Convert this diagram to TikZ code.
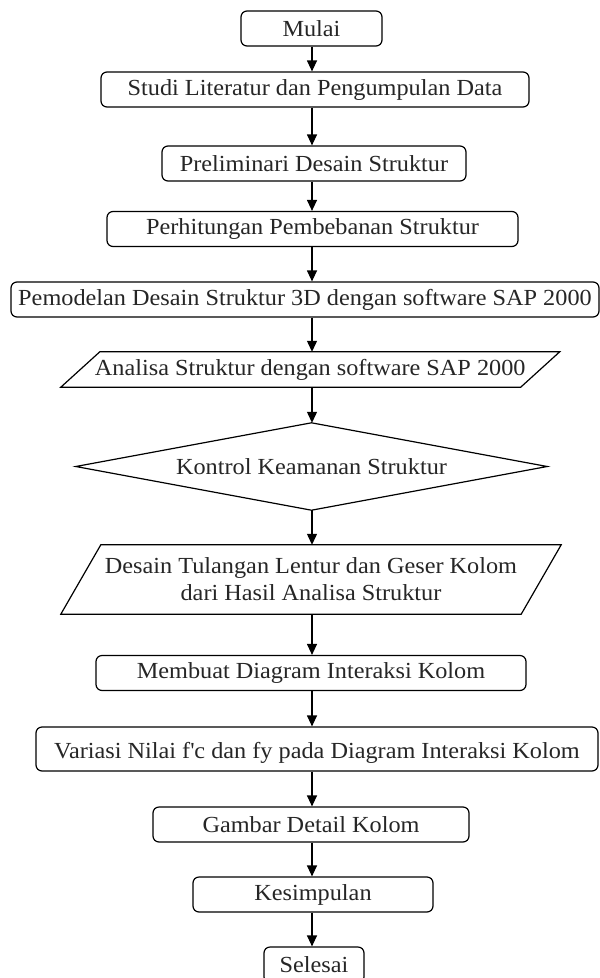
\documentclass[tikz,border=0pt]{standalone}
\usepackage{fontspec}
\setmainfont{Liberation Serif}[FakeStretch=1.055]
\usetikzlibrary{arrows.meta}
\begin{document}
\begin{tikzpicture}[x=1pt,y=-1pt,
  every node/.style={font=\fontsize{23}{27}\selectfont, text=black!85, inner sep=0pt},
  proc/.style={draw, line width=1.2pt, rounded corners=6pt, minimum height=35pt},
  outline/.style={line width=1.2pt, line join=miter},
  flow/.style={line width=1.2pt, -{Triangle[width=10pt,length=11pt]}}
]
\useasboundingbox (0,0) rectangle (600,978);
\clip (0,0) rectangle (600,978);
\fill[white] (0,0) rectangle (600,978);

\coordinate (axis) at (312,0);

% process boxes
\node[proc, minimum width=141pt] (mulai) at (311.5,28.5) {Mulai};
\node[proc, minimum width=428pt] (studi) at (315,89.5) {Studi Literatur dan Pengumpulan Data};
\node[proc, minimum width=304pt] (prelim) at (314,163.5) {Preliminari Desain Struktur};
\node[proc, minimum width=411pt] (hitung) at (312.5,229) {Perhitungan Pembebanan Struktur};
\node[proc, minimum width=588pt] (model) at (305,299.5) {Pemodelan Desain Struktur 3D dengan software SAP 2000};

% input/output: analysis
\node[minimum width=459.5pt, minimum height=35pt] (analisa) at (310.25,369.5) {Analisa Struktur dengan software SAP 2000};
\draw[outline] ([xshift=19.5pt]analisa.north west) -- ([xshift=19.5pt]analisa.north east)
  -- ([xshift=-19.5pt]analisa.south east) -- ([xshift=-19.5pt]analisa.south west) -- cycle;

% decision
\node[minimum width=471pt, minimum height=87pt] (kontrol) at (311.5,466.5) {Kontrol Keamanan Struktur};
\draw[outline] (kontrol.north) -- (kontrol.east) -- (kontrol.south) -- (kontrol.west) -- cycle;

% input/output: reinforcement design
\node[minimum width=460pt, minimum height=69pt, align=center] (desain) at (311,579.5)
  {Desain Tulangan Lentur dan Geser Kolom\\dari Hasil Analisa Struktur};
\draw[outline] ([xshift=20pt]desain.north west) -- ([xshift=20pt]desain.north east)
  -- ([xshift=-20pt]desain.south east) -- ([xshift=-20pt]desain.south west) -- cycle;

\node[proc, minimum width=430pt] (membuat) at (311,673) {Membuat Diagram Interaksi Kolom};
\node[proc, minimum width=562pt, minimum height=44pt] (variasi) at (317,749) {};
\node at ([yshift=-4pt]variasi.center) {Variasi Nilai f\textquotesingle c dan fy pada Diagram Interaksi Kolom};
\node[proc, minimum width=316pt] (gambar) at (311,824.5) {Gambar Detail Kolom};
\node[proc, minimum width=240pt] (simpul) at (313,894.5) {Kesimpulan};
\node[proc, minimum width=100pt, minimum height=36pt] (selesai) at (314,965) {Selesai};

% connectors
\foreach \a/\b in {mulai/studi, studi/prelim, prelim/hitung, hitung/model, model/analisa,
  analisa/kontrol, kontrol/desain, desain/membuat, membuat/variasi, variasi/gambar,
  gambar/simpul, simpul/selesai}
  \draw[flow] (\a.south -| axis) -- (\b.north -| axis);
\end{tikzpicture}
\end{document}
